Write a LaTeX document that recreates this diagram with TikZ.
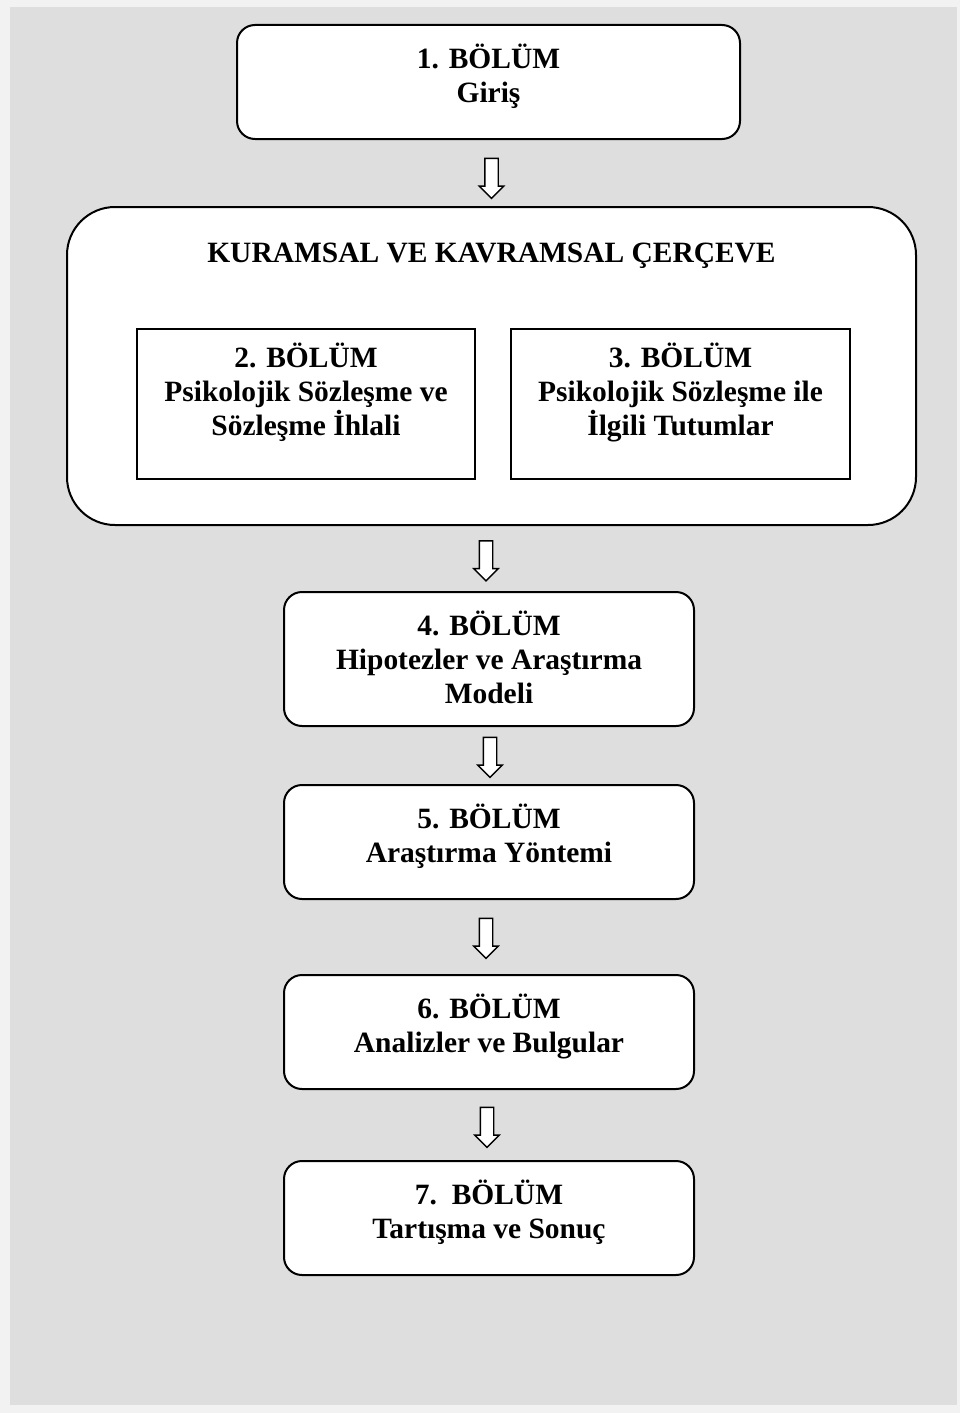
\documentclass[tikz,border=0pt]{standalone}
\usepackage{fontspec}
\setmainfont{Liberation Serif}
\usetikzlibrary{shapes.arrows}
\definecolor{pagebg}{HTML}{F2F2F2}
\definecolor{panelbg}{HTML}{DEDEDE}
\begin{document}
\begin{tikzpicture}[x=0.75pt, y=-0.75pt,
  every node/.style={inner sep=0pt, outer sep=0pt},
  roundbox/.style={draw, fill=white, line width=1.5pt, rounded corners=13.5pt,
                   minimum width=307.5pt, minimum height=85.5pt},
  framebox/.style={draw, fill=white, line width=1.5pt, rounded corners=36pt,
                   minimum width=636.75pt, minimum height=238.5pt},
  chapbox/.style={draw, fill=white, line width=1.5pt,
                  minimum width=253.5pt, minimum height=112.5pt},
  % anchored on the baseline of the last line of text
  caption/.style={anchor=base, align=center, font=\fontsize{22.1}{25.5}\selectfont\bfseries},
  blockarrow/.style={single arrow, draw, fill=white, line width=1.1pt,
                     inner sep=4.5pt,
                     minimum width=17.25pt, single arrow head extend=4.1pt,
                     single arrow head indent=0pt, minimum height=30pt,
                     shape border rotate=270}
]
% page and grey panel
\fill[pagebg] (0,0) rectangle (960,1413);
\fill[panelbg] (10,7) rectangle (957,1405);
\useasboundingbox (0,0) rectangle (960,1413);

% chapter 1
\node[roundbox, minimum width=377.25pt] (b1) at (488.5,82) {};
\node[caption] (t1) at (488.5,103) {1. BÖLÜM\\Giriş};

% theoretical framework with chapters 2 and 3
\node[framebox] (frame) at (491.5,366) {};
\node[caption] (tf) at (491.5,262) {KURAMSAL VE KAVRAMSAL ÇERÇEVE};
\node[chapbox] (b2) at (306,404) {};
\node[caption] (t2) at (306,435) {2. BÖLÜM\\Psikolojik Sözleşme ve\\Sözleşme İhlali};
\node[chapbox, minimum width=254.25pt] (b3) at (680.5,404) {};
\node[caption] (t3) at (680.5,435) {3. BÖLÜM\\Psikolojik Sözleşme ile\\İlgili Tutumlar};

% chapters 4 to 7
\node[roundbox, minimum height=100.5pt] (b4) at (489,659) {};
\node[caption] (t4) at (489,703) {4. BÖLÜM\\Hipotezler ve Araştırma\\Modeli};
\node[roundbox] (b5) at (489,842) {};
\node[caption] (t5) at (489,862) {5. BÖLÜM\\Araştırma Yöntemi};
\node[roundbox] (b6) at (489,1032) {};
\node[caption] (t6) at (489,1052) {6. BÖLÜM\\Analizler ve Bulgular};
\node[roundbox] (b7) at (489,1218) {};
\node[caption] (t7) at (489,1238) {7.\ \ BÖLÜM\\Tartışma ve Sonuç};

% hollow block arrows between the stages
\node[blockarrow] (a1) at (491.5,175) {};
\node[blockarrow] (a2) at (486,557.5) {};
\node[blockarrow] (a3) at (490,754) {};
\node[blockarrow] (a4) at (486,935) {};
\node[blockarrow] (a5) at (487,1124) {};
\end{tikzpicture}
\end{document}
